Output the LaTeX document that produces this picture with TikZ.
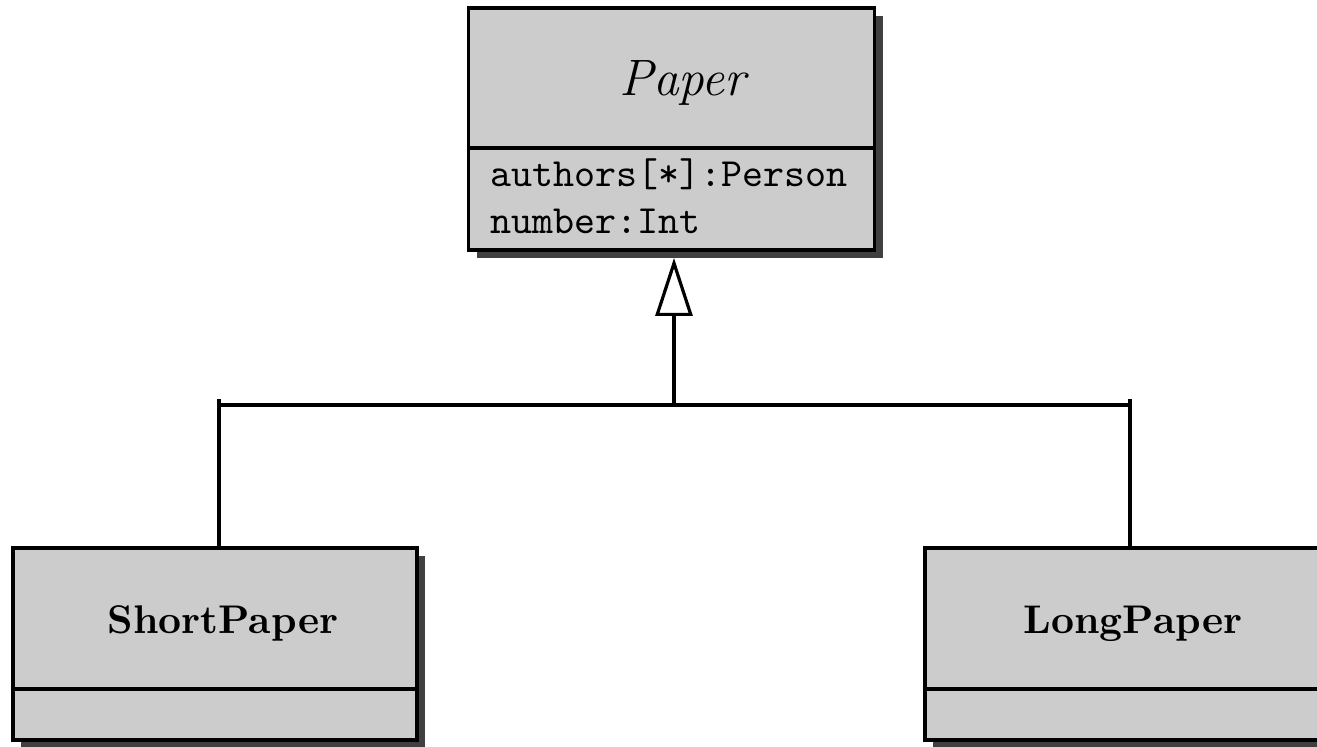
\documentclass[tikz,border=0pt]{standalone}
\usepackage{graphicx}
\usetikzlibrary{arrows.meta,shadows,calc}
\definecolor{boxfill}{gray}{0.8}
\definecolor{shadowgray}{gray}{0.25}
\tikzset{
  compartment/.style={draw=black, line width=0.85pt, fill=boxfill, inner sep=0pt, outer sep=0pt,
    drop shadow={shadow xshift=2pt, shadow yshift=-2pt, fill=shadowgray, opacity=1}},
  classname/.style={inner sep=0pt, anchor=base},
  abstractname/.style={classname, font=\fontsize{12.8}{15}\selectfont\itshape},
  concretename/.style={classname, font=\fontsize{10}{12}\selectfont\bfseries},
  attr/.style={inner sep=0pt, anchor=base west, font=\fontsize{10}{12}\selectfont\ttfamily},
  link/.style={line width=0.8pt},
  generalization/.style={link, -{Triangle[length=14.5pt, width=9.25pt, fill=white]}}
}
\begin{document}
\begin{tikzpicture}[x=0.25pt, y=-0.25pt]
\useasboundingbox (0,0) rectangle (1317,747);
\clip (0,0) rectangle (1317,747);

% abstract superclass
\node[compartment, minimum width=101.5pt, minimum height=35pt] (pname) at (671.5,78) {};
\node[compartment, minimum width=101.5pt, minimum height=25.5pt, anchor=north] (pattr) at (pname.south) {};
\node[abstractname] (ptitle) at (682.5,96) {Paper};
\node[attr] (a1) at (490,187) {authors[*]:Person};
\node[attr] (a2) at (490,234) {number:Int};

% subclasses
\node[compartment, minimum width=101pt, minimum height=35.25pt] (sname) at (215,618.5) {};
\node[compartment, minimum width=101pt, minimum height=12.75pt, anchor=north] (sattr) at (sname.south) {};
\node[concretename] (stitle) at (223,633) {ShortPaper};

\node[compartment, minimum width=101pt, minimum height=35.25pt] (lname) at (1127,618.5) {};
\node[compartment, minimum width=101pt, minimum height=12.75pt, anchor=north] (lattr) at (lname.south) {};
\node[concretename] (ltitle) at (1133,633) {LongPaper};

% generalization tree
\coordinate (joint) at (674,405);
\coordinate (lt) at (219,399);
\coordinate (rt) at (1130,399);
\draw[link] (lt |- joint) -- (rt |- joint);
\draw[link] (lt) -- (lt |- sname.north);
\draw[link] (rt) -- (rt |- lname.north);
\draw[generalization] (joint) -- ($(joint |- pattr.south)+(0,-2pt)$);
\end{tikzpicture}
\end{document}
